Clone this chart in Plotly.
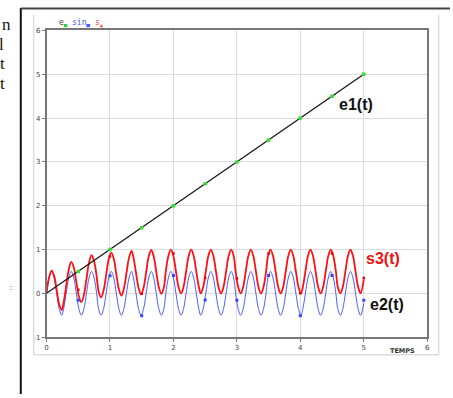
import plotly.graph_objects as go

W, H = 453, 398

# ---- data ----
t_e1 = [0, 5]
v_e1 = [0, 5]
t_mark = [0.5, 1.0, 1.5, 2.0, 2.5, 3.0, 3.5, 4.0, 4.5, 5.0]
e1_mark = [0.5, 1.0, 1.5, 2.0, 2.5, 3.0, 3.5, 4.0, 4.5, 5.0]
e2_mark = [-0.16, 0.40, -0.51, 0.41, -0.15, -0.16, 0.41, -0.51, 0.41, -0.16]
s3_mark = [0.08, 0.84, -0.01, 0.91, 0.35, 0.34, 0.91, 0.0, 0.91, 0.35]

t_sig = [0.00, 0.04, 0.08, 0.12, 0.16, 0.20, 0.24, 0.27,
         0.31, 0.35, 0.39, 0.43, 0.47, 0.51, 0.55, 0.59,
         0.63, 0.67, 0.71, 0.75, 0.79, 0.82, 0.86, 0.90,
         0.94, 0.98, 1.02, 1.06, 1.10, 1.14, 1.18, 1.22,
         1.26, 1.30, 1.34, 1.37, 1.41, 1.45, 1.49, 1.53,
         1.57, 1.61, 1.65, 1.69, 1.73, 1.77, 1.81, 1.85,
         1.88, 1.92, 1.96, 2.00, 2.04, 2.08, 2.12, 2.16,
         2.20, 2.24, 2.28, 2.32, 2.36, 2.40, 2.43, 2.47,
         2.51, 2.55, 2.59, 2.63, 2.67, 2.71, 2.75, 2.79,
         2.83, 2.87, 2.91, 2.95, 2.98, 3.02, 3.06, 3.10,
         3.14, 3.18, 3.22, 3.26, 3.30, 3.34, 3.38, 3.42,
         3.46, 3.49, 3.53, 3.57, 3.61, 3.65, 3.69, 3.73,
         3.77, 3.81, 3.85, 3.89, 3.93, 3.97, 4.01, 4.04,
         4.08, 4.12, 4.16, 4.20, 4.24, 4.28, 4.32, 4.36,
         4.40, 4.44, 4.48, 4.52, 4.56, 4.59, 4.63, 4.67,
         4.71, 4.75, 4.79, 4.83, 4.87, 4.91, 4.95, 5.00]

e2_sig = [0, 0.35, 0.5, 0.35, 0, -0.35, -0.5, -0.35,
          0, 0.35, 0.5, 0.35, 0, -0.35, -0.5, -0.35,
          0, 0.35, 0.5, 0.35, 0, -0.35, -0.5, -0.35,
          0, 0.35, 0.5, 0.35, 0, -0.35, -0.5, -0.35,
          0, 0.35, 0.5, 0.35, 0, -0.35, -0.5, -0.35,
          0, 0.35, 0.5, 0.35, 0, -0.35, -0.5, -0.35,
          0, 0.35, 0.5, 0.35, 0, -0.35, -0.5, -0.35,
          0, 0.35, 0.5, 0.35, 0, -0.35, -0.5, -0.35,
          0, 0.35, 0.5, 0.35, 0, -0.35, -0.5, -0.35,
          0, 0.35, 0.5, 0.35, 0, -0.35, -0.5, -0.35,
          0, 0.35, 0.5, 0.35, 0, -0.35, -0.5, -0.35,
          0, 0.35, 0.5, 0.35, 0, -0.35, -0.5, -0.35,
          0, 0.35, 0.5, 0.35, 0, -0.35, -0.5, -0.35,
          0, 0.35, 0.5, 0.35, 0, -0.35, -0.5, -0.35,
          0, 0.35, 0.5, 0.35, 0, -0.35, -0.5, -0.35,
          0, 0.35, 0.5, 0.35, 0, -0.35, -0.5, -0.22]

s3_sig = [0.00, 0.36, 0.52, 0.40, 0.08, -0.25, -0.38, -0.21,
          0.17, 0.54, 0.72, 0.59, 0.26, -0.07, -0.20, -0.03,
          0.33, 0.70, 0.87, 0.73, 0.39, 0.05, -0.09, 0.07,
          0.42, 0.78, 0.93, 0.79, 0.44, 0.10, -0.05, 0.11,
          0.46, 0.81, 0.97, 0.82, 0.47, 0.13, -0.02, 0.13,
          0.48, 0.84, 0.99, 0.84, 0.49, 0.14, -0.01, 0.14,
          0.50, 0.85, 1.00, 0.85, 0.50, 0.15, 0.00, 0.15,
          0.50, 0.85, 1.00, 0.85, 0.50, 0.15, 0.00, 0.15,
          0.50, 0.85, 1.00, 0.85, 0.50, 0.15, 0.00, 0.15,
          0.50, 0.85, 1.00, 0.85, 0.50, 0.15, 0.00, 0.15,
          0.50, 0.85, 1.00, 0.85, 0.50, 0.15, 0.00, 0.15,
          0.50, 0.85, 1.00, 0.85, 0.50, 0.15, 0.00, 0.15,
          0.50, 0.85, 1.00, 0.85, 0.50, 0.15, 0.00, 0.15,
          0.50, 0.85, 1.00, 0.85, 0.50, 0.15, 0.00, 0.15,
          0.50, 0.85, 1.00, 0.85, 0.50, 0.15, 0.00, 0.15,
          0.50, 0.85, 1.00, 0.85, 0.50, 0.15, 0.00, 0.32]

x_ticks = [0, 1, 2, 3, 4, 5, 6]
y_ticks = [-1, 0, 1, 2, 3, 4, 5, 6]


def px(x):
    return x / W


def py(y):
    return 1 - y / H


fig = go.Figure()
fig.add_trace(go.Scatter(x=t_sig, y=e2_sig, mode="lines",
                         line=dict(color="#4a5cff", width=1, shape="spline", smoothing=1.0),
                         hoverinfo="skip"))
fig.add_trace(go.Scatter(x=t_sig, y=s3_sig, mode="lines",
                         line=dict(color="#ff1010", width=1.8, shape="spline", smoothing=1.0),
                         hoverinfo="skip"))
fig.add_trace(go.Scatter(x=t_mark, y=e2_mark, mode="markers",
                         marker=dict(color="#3344ff", size=3, symbol="square")))
fig.add_trace(go.Scatter(x=t_mark, y=s3_mark, mode="markers",
                         marker=dict(color="#ee0000", size=2.5, symbol="square")))
fig.add_trace(go.Scatter(x=t_e1, y=v_e1, mode="lines",
                         line=dict(color="#111111", width=1.2)))
fig.add_trace(go.Scatter(x=t_mark, y=e1_mark, mode="markers",
                         marker=dict(color="#33dd33", size=3.5, symbol="square")))

axis_common = dict(showline=True, mirror=True, linecolor="#777777", linewidth=1.5,
                   showgrid=True, gridcolor="#dddddd", gridwidth=1, zeroline=False,
                   ticks="outside", ticklen=3, tickcolor="#777777",
                   tickfont=dict(size=7, color="#444444", family="DejaVu Sans"))

fig.update_layout(
    width=W, height=H, margin=dict(l=0, r=0, t=0, b=0),
    paper_bgcolor="white", plot_bgcolor="white", showlegend=False,
    xaxis=dict(domain=[px(45), px(430)], range=[0, 6], tickvals=x_ticks,
               ticktext=[str(v) for v in x_ticks], **axis_common),
    yaxis=dict(domain=[py(340), py(27)], range=[-1, 6], tickvals=y_ticks,
               ticktext=[str(v) for v in y_ticks], **axis_common),
)

shapes = [
    # document lines
    dict(type="line", xref="paper", yref="paper", x0=px(19), x1=px(19), y0=py(4), y1=py(398),
         line=dict(color="#111111", width=2)),
    dict(type="line", xref="paper", yref="paper", x0=px(19), x1=px(453), y0=py(4.5), y1=py(4.5),
         line=dict(color="#444444", width=2)),
    # light figure frame
    dict(type="line", xref="paper", yref="paper", x0=px(32), x1=px(32), y0=py(11), y1=py(358),
         line=dict(color="#dddddd", width=1.5)),
    dict(type="line", xref="paper", yref="paper", x0=px(441.5), x1=px(441.5), y0=py(11), y1=py(358),
         line=dict(color="#dddddd", width=1.5)),
    dict(type="line", xref="paper", yref="paper", x0=px(32), x1=px(441.5), y0=py(358), y1=py(358),
         line=dict(color="#dddddd", width=1.5)),
]
fig.update_layout(shapes=shapes)

ann = []


def add_text(x, y, text, size, color, family="Liberation Sans", xanchor="center", bold=False):
    ann.append(dict(x=px(x), y=py(y), xref="paper", yref="paper", text=("<b>%s</b>" % text) if bold else text,
                    showarrow=False, xanchor=xanchor, yanchor="middle",
                    font=dict(size=size, color=color, family=family)))


add_text(358, 103, "e1(t)", 16, "#111111", bold=True)
add_text(385, 260, "s3(t)", 16, "#ee1111", bold=True)
add_text(389, 307, "e2(t)", 16, "#111111", bold=True)
add_text(405, 354, "TEMPS", 6.5, "#333333", family="DejaVu Sans", bold=True)

# small legend
add_text(56, 19, "e<sub><span style='color:#33cc33'>■</span></sub>", 8, "#444444", family="DejaVu Sans Mono", xanchor="left")
add_text(69, 19, "sin<sub>■</sub>", 8, "#4455ff", family="DejaVu Sans Mono", xanchor="left")
add_text(92, 19, "s<sub>▲</sub>", 8, "#ff4444", family="DejaVu Sans Mono", xanchor="left")

# cut-off text of the surrounding document
add_text(11, 21, "n", 17, "#111111", family="Liberation Serif", xanchor="right")
add_text(4, 41, "l", 17, "#111111", family="Liberation Serif", xanchor="right")
add_text(5, 61, "t", 17, "#111111", family="Liberation Serif", xanchor="right")
add_text(5, 81, "t", 17, "#111111", family="Liberation Serif", xanchor="right")
add_text(9, 289, ":", 8, "#333333", family="Liberation Serif", xanchor="center")

fig.update_layout(annotations=ann)

fig.write_html("out.html")
